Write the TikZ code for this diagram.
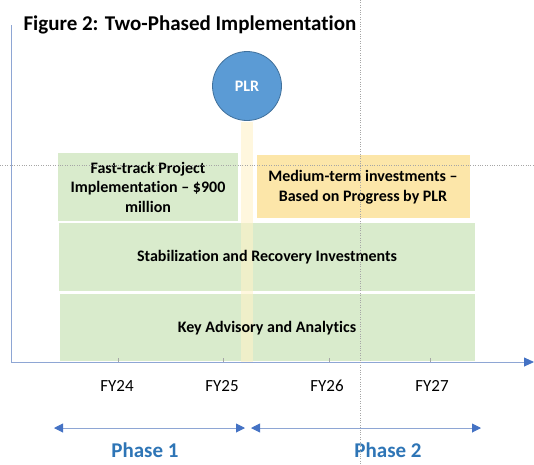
\documentclass[tikz,border=0pt]{standalone}
\usepackage{fontspec}
\setmainfont[Ligatures=NoCommon]{Carlito}
\usetikzlibrary{arrows.meta}
\definecolor{axisblue}{HTML}{8EA6D4}
\definecolor{tipblue}{HTML}{4472C4}
\definecolor{boxgreen}{HTML}{D9EBCC}
\definecolor{boxyellow}{HTML}{FCE6A9}
\definecolor{baryellow}{HTML}{FFF2C8}
\definecolor{plrfill}{HTML}{5B9BD5}
\definecolor{plrline}{HTML}{41719C}
\definecolor{phaseblue}{HTML}{2E75B6}
\definecolor{gridgray}{HTML}{A6A6A6}
\tikzset{
  x=1pt, y=-1pt,
  greenbox/.style={fill=boxgreen, draw=none},
  yellowbox/.style={fill=boxyellow, draw=none},
  boxtext/.style={font=\fontsize{16}{19.5}\selectfont\bfseries, align=center, text=black},
  yeartext/.style={font=\fontsize{17}{20}\selectfont, text=black},
  phasetext/.style={font=\fontsize{21}{24}\selectfont\bfseries, text=phaseblue, anchor=base, inner sep=0pt},
  phasearrow/.style={draw=axisblue, line width=0.9pt, {Triangle[length=9pt,width=9pt,color=tipblue]}-{Triangle[length=9pt,width=9pt,color=tipblue]}},
  gridline/.style={draw=gridgray, line width=0.4pt, dotted},
  tick/.style={draw=gridgray, line width=0.5pt}
}
\begin{document}
\begin{tikzpicture}
\useasboundingbox (0,0) rectangle (534,464);

% title
\node[anchor=west, font=\fontsize{21}{24}\selectfont\bfseries] (title) at (20,25) {Figure 2: Two-Phased Implementation};

% stacked boxes
\fill[greenbox] (58,153) rectangle (238,221);
\fill[yellowbox] (257,155) rectangle (470,218);
\fill[greenbox] (59,223) rectangle (475,291);
\fill[greenbox] (60,294) rectangle (475,361);

% PLR marker bar
\fill[baryellow, opacity=0.6] (241,122) rectangle (253,362);

\node[boxtext] (fast) at (148,187) {Fast-track Project\\Implementation – \$900\\million};
\node[boxtext] (medium) at (363,187) {Medium-term investments –\\Based on Progress by PLR};
\node[boxtext] (stab) at (267,257) {Stabilization and Recovery Investments};
\node[boxtext] (key) at (267,328) {Key Advisory and Analytics};

% PLR circle
\node[circle, minimum size=69pt, inner sep=0pt, fill=plrfill, draw=plrline, line width=0.8pt,
      text=white, font=\fontsize{16}{18}\selectfont\bfseries] (plr) at (247,86) {PLR};

% axes
\coordinate (top) at (11,25);
\coordinate (origin) at (11,362);
\coordinate (xend) at (534,362);
\draw[axisblue, line width=0.9pt] (top) -- (origin);
\draw[axisblue, line width=0.9pt, -{Triangle[length=10pt,width=9pt,color=tipblue]}] (origin) -- (xend);
\foreach \tx in {118,223,329,430} \draw[tick] (\tx,358) -- (\tx,362);

% year labels
\node[yeartext] (fy24) at (117,386) {FY24};
\node[yeartext] (fy25) at (222,386) {FY25};
\node[yeartext] (fy26) at (327,386) {FY26};
\node[yeartext] (fy27) at (432,386) {FY27};

% phase arrows
\coordinate (p1a) at (54,428);
\coordinate (p1b) at (245,428);
\coordinate (p2a) at (251,428);
\coordinate (p2b) at (481,428);
\draw[phasearrow] (p1a) -- (p1b);
\draw[phasearrow] (p2a) -- (p2b);
\node[phasetext] (ph1) at (145,457) {Phase 1};
\node[phasetext] (ph2) at (388,457) {Phase 2};

% dotted guide lines
\draw[gridline] (360,0) -- (360,464);
\draw[gridline] (0,165) -- (534,165);
\end{tikzpicture}
\end{document}
